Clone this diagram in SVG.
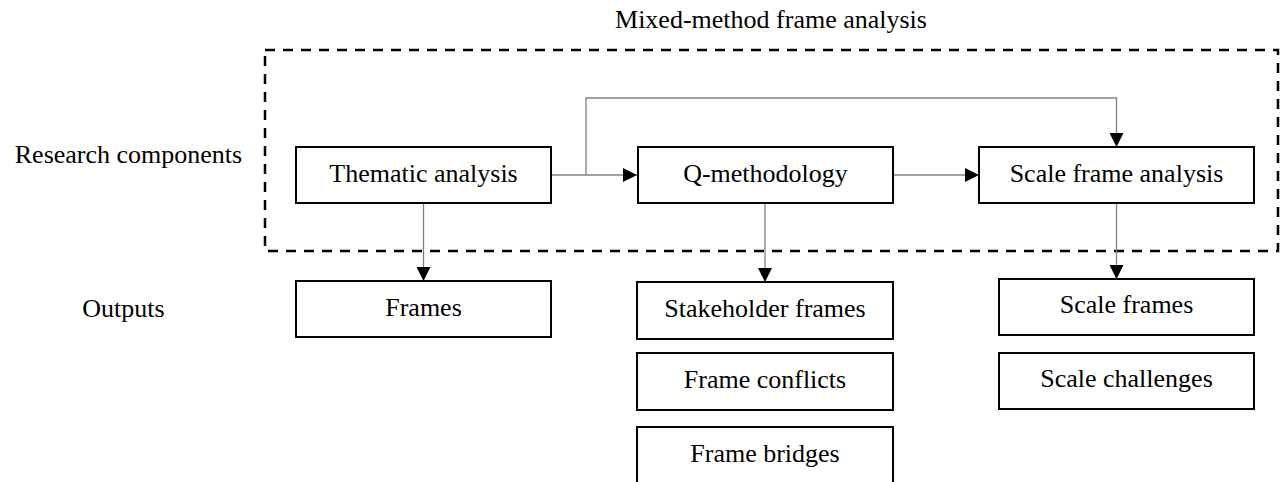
<svg xmlns="http://www.w3.org/2000/svg" width="1286" height="482" viewBox="0 0 1286 482">
<style>
text{font-family:"Liberation Serif","Times New Roman",serif;font-size:26px;fill:#000;text-anchor:middle}
.box{fill:#fff;stroke:#000;stroke-width:2}
.conn{fill:none;stroke:#808080;stroke-width:1.3}
.frame{fill:none;stroke:#000;stroke-width:2.5;stroke-dasharray:10 8}
</style>
<defs>
<marker id="arr" viewBox="0 0 14 14" refX="14" refY="7" markerWidth="14" markerHeight="14" markerUnits="userSpaceOnUse" orient="auto">
<path d="M0,0 L14,7 L0,14 Z" fill="#000"/>
</marker>
</defs>
<rect fill="#fff" x="0" y="0" width="1286" height="482"/>
<text x="771" y="28">Mixed-method frame analysis</text>
<text x="128.5" y="163">Research components</text>
<text x="123.5" y="317">Outputs</text>
<rect class="frame" x="265" y="50" width="1013" height="201"/>
<g id="connectors">
<path class="conn" d="M551,175 H637" marker-end="url(#arr)"/>
<path class="conn" d="M893,175 H979" marker-end="url(#arr)"/>
<path class="conn" d="M586,175 V98 H1116.5 V147" marker-end="url(#arr)"/>
<path class="conn" d="M423.5,203 V281" marker-end="url(#arr)"/>
<path class="conn" d="M765,203 V282" marker-end="url(#arr)"/>
<path class="conn" d="M1116.5,203 V279" marker-end="url(#arr)"/>
</g>
<g id="thematic"><rect class="box" x="296" y="147" width="255" height="56"/><text x="423.5" y="181.5">Thematic analysis</text></g>
<g id="qmethod"><rect class="box" x="638" y="147" width="255" height="56"/><text x="765.5" y="181.5">Q-methodology</text></g>
<g id="scaleanalysis"><rect class="box" x="979" y="147" width="275" height="56"/><text x="1116.5" y="181.5">Scale frame analysis</text></g>
<g id="frames"><rect class="box" x="296" y="281" width="255" height="56"/><text x="423.5" y="316">Frames</text></g>
<g id="stakeholder"><rect class="box" x="637" y="282" width="256" height="57"/><text x="765" y="316.5">Stakeholder frames</text></g>
<g id="conflicts"><rect class="box" x="637" y="353" width="256" height="57"/><text x="765" y="387.5">Frame conflicts</text></g>
<g id="bridges"><rect class="box" x="637" y="427" width="256" height="56"/><text x="765" y="461.5">Frame bridges</text></g>
<g id="scaleframes"><rect class="box" x="999" y="279" width="255" height="56"/><text x="1126.5" y="313">Scale frames</text></g>
<g id="scalechallenges"><rect class="box" x="999" y="353" width="255" height="56"/><text x="1126.5" y="387">Scale challenges</text></g>
</svg>
